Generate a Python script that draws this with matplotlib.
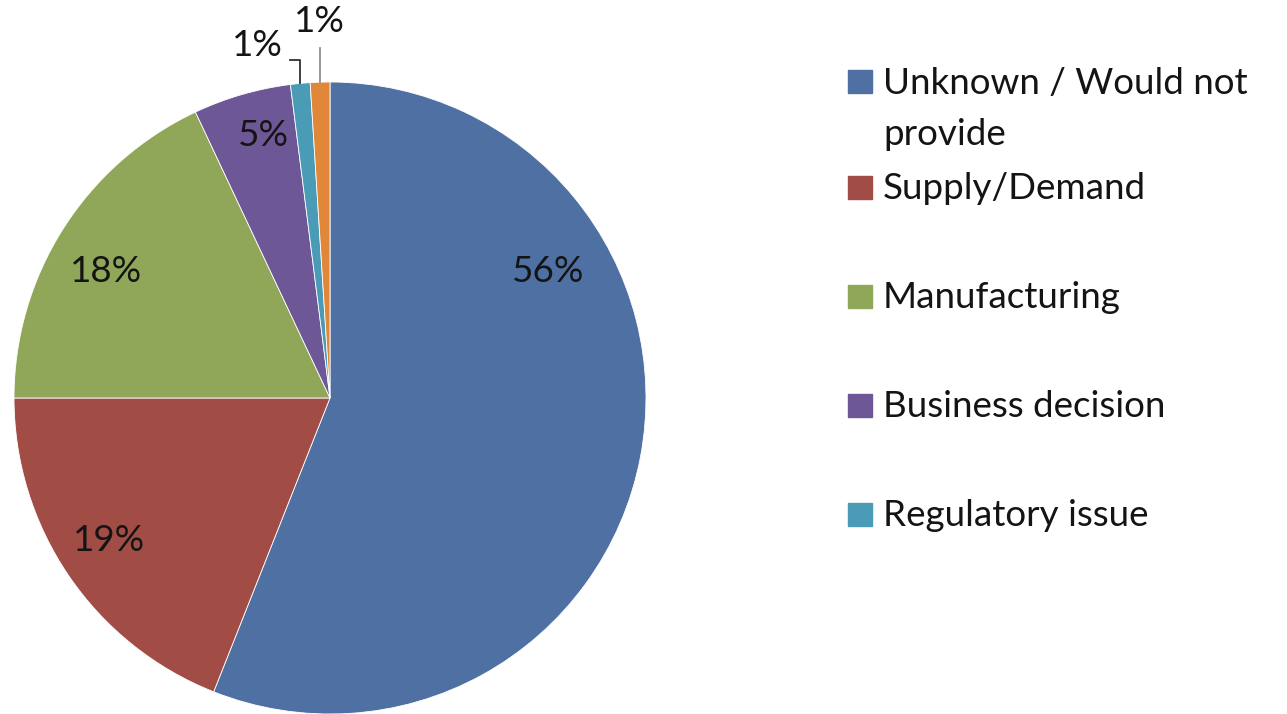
import matplotlib.pyplot as plt
from matplotlib.patches import Rectangle
import numpy as np

plt.rcParams["font.family"] = ["Lato", "DejaVu Sans"]

# data
categories = ["Unknown / Would not\nprovide", "Supply/Demand", "Manufacturing",
              "Business decision", "Regulatory issue", "Other"]
shares = [56, 19, 18, 5, 1, 1]
colors = ["#4F70A3", "#A24C46", "#90A759", "#6E5796", "#4A9BB5", "#E0873A"]

W, H = 1287, 714
fig = plt.figure(figsize=(W / 100, H / 100), dpi=100)
# pie centre at (330, 398) px from top, radius 316 px
ax = fig.add_axes([14 / W, 0, 632 / W, 632 / H])
wedges, _ = ax.pie(shares, colors=colors, startangle=90, counterclock=False,
                   radius=1, wedgeprops=dict(edgecolor="white", linewidth=0.6))
ax.set_xlim(-1, 1)
ax.set_ylim(-1, 1)
ax.set_aspect("equal")
ax.axis("off")

# label placement (data coords of the pie axes)
label_xy = [(0.69, 0.40), (-0.70, -0.45), (-0.71, 0.40), (-0.21, 0.83),
            (-0.23, 1.114), (-0.035, 1.19)]
fs = 26.5
for w, s, (lx, ly) in zip(wedges, shares, label_xy):
    ax.text(lx, ly, f"{s}%", ha="center", va="center", fontsize=fs,
            color="#141414", clip_on=False)

# leader lines for the two small slices
for w, (ytop, xend, lc) in zip(wedges[4:], [(1.07, -0.127, "#303030"), (1.108, None, "#909090")]):
    mid = np.deg2rad((w.theta1 + w.theta2) / 2)
    x0, y0 = np.cos(mid), np.sin(mid)
    xs, ys = [x0, x0], [y0, ytop]
    if xend is not None:
        xs.append(xend)
        ys.append(ytop)
    ax.plot(xs, ys, color=lc, lw=1.3, clip_on=False)

# legend drawn by hand so the marker sits on the first text line
legend_y = [81, 187, 296, 405, 514]
line_gap = 52
for i, y in enumerate(legend_y):
    fig.patches.append(Rectangle((848 / W, 1 - (y + 11.5) / H), 24 / W, 23 / H,
                                 transform=fig.transFigure, color=colors[i]))
    nlines = categories[i].count("\n")
    base = y + 12 + line_gap * nlines
    fig.text(883 / W, 1 - base / H, categories[i], ha="left", va="baseline",
             fontsize=fs, color="#141414", linespacing=1.68)

fig.savefig("out.png", dpi=100)
